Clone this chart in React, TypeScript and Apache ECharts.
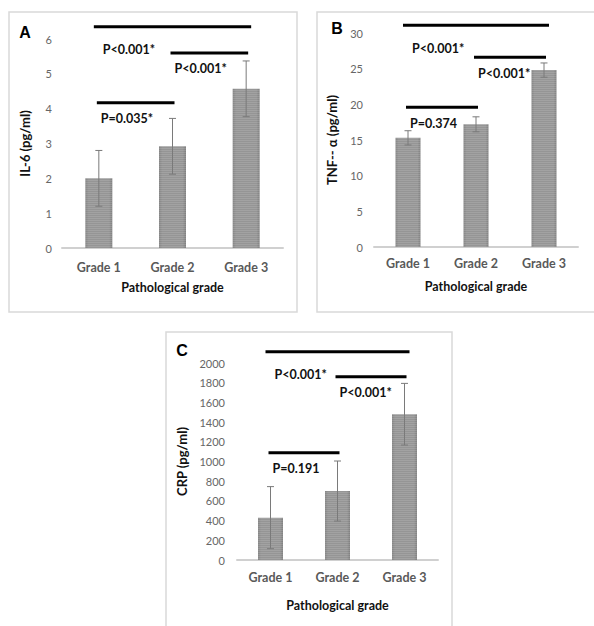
import React, { useEffect, useRef } from "react";
import * as echarts from "echarts";

const categories = ["Grade 1", "Grade 2", "Grade 3"];

const il6Mean = [2.0, 2.92, 4.57];
const il6Sd = [0.8, 0.8, 0.8];
const tnfMean = [15.3, 17.2, 24.8];
const tnfSd = [1.0, 1.05, 1.0];
const crpMean = [430, 700, 1480];
const crpSd = [315, 305, 313];

const il6Comps = [
  { from: 0, to: 2, level: 6.35, label: "P<0.001*" },
  { from: 1, to: 2, level: 5.6, label: "P<0.001*" },
  { from: 0, to: 1, level: 4.17, label: "P=0.035*" },
];
const tnfComps = [
  { from: 0, to: 2, level: 31.1, label: "P<0.001*" },
  { from: 1, to: 2, level: 26.6, label: "P<0.001*" },
  { from: 0, to: 1, level: 19.6, label: "P=0.374" },
];
const crpComps = [
  { from: 0, to: 2, level: 2115, label: "P<0.001*" },
  { from: 1, to: 2, level: 1861, label: "P<0.001*" },
  { from: 0, to: 1, level: 1089, label: "P=0.191" },
];

const FONT = "Lato";

const barFill = {
  type: "linear",
  x: 0,
  y: 0,
  x2: 1,
  y2: 0,
  colorStops: [
    { offset: 0, color: "#858585" },
    { offset: 0.12, color: "#959595" },
    { offset: 0.88, color: "#959595" },
    { offset: 1, color: "#808080" },
  ],
};

function panelAxes(
  idx: number,
  max: number,
  interval: number,
  yName: string,
  yGap: number,
  labelMargin: number,
  catMargin: number,
  xGap: number
) {
  const xAxis = {
    type: "category",
    gridIndex: idx,
    data: categories,
    axisLine: { lineStyle: { color: "#d0d0d0", width: 2 } },
    axisTick: { show: false },
    axisLabel: {
      color: "#595959",
      fontFamily: FONT,
      fontWeight: "bold",
      fontSize: 12.5,
      margin: catMargin,
    },
    name: "Pathological grade",
    nameLocation: "middle",
    nameGap: xGap,
    nameTextStyle: { color: "#111", fontFamily: FONT, fontWeight: "bold", fontSize: 12.5 },
  };
  const yAxis = {
    type: "value",
    gridIndex: idx,
    min: 0,
    max,
    interval,
    splitLine: { show: false },
    axisLine: { show: false },
    axisTick: { show: false },
    axisLabel: {
      color: "#666",
      fontFamily: FONT,
      fontSize: 11,
      margin: labelMargin,
      formatter: (v: number) => String(v),
    },
    name: yName,
    nameLocation: "middle",
    nameGap: yGap,
    nameRotate: 90,
    nameTextStyle: { color: "#111", fontFamily: FONT, fontWeight: "bold", fontSize: 13 },
  };
  return { xAxis, yAxis };
}

function panelSeries(idx: number, mean: number[], sd: number[], comps: any[], barWidth: number) {
  const bar = {
    type: "bar",
    xAxisIndex: idx,
    yAxisIndex: idx,
    data: mean,
    barWidth,
    itemStyle: {
      color: barFill,
      decal: {
        symbol: "rect",
        symbolSize: 1,
        dashArrayX: [1, 0],
        dashArrayY: [1, 1],
        rotation: 0,
        color: "rgba(255,255,255,0.12)",
      },
    },
    z: 2,
  };
  const err = {
    type: "custom",
    xAxisIndex: idx,
    yAxisIndex: idx,
    data: mean.map((m, i) => [i, m, sd[i]]),
    encode: { x: 0, y: 1 },
    clip: false,
    z: 5,
    renderItem: (params: any, api: any) => {
      const i = api.value(0);
      const m = api.value(1);
      const s = api.value(2);
      const hi = api.coord([i, m + s]);
      const lo = api.coord([i, m - s]);
      const st = { stroke: "#7a7a7a", lineWidth: 1 };
      return {
        type: "group",
        children: [
          { type: "line", shape: { x1: hi[0], y1: hi[1], x2: lo[0], y2: lo[1] }, style: st },
          { type: "line", shape: { x1: hi[0] - 3.5, y1: hi[1], x2: hi[0] + 3.5, y2: hi[1] }, style: st },
          { type: "line", shape: { x1: lo[0] - 3.5, y1: lo[1], x2: lo[0] + 3.5, y2: lo[1] }, style: st },
        ],
      };
    },
  };
  const sig = {
    type: "custom",
    xAxisIndex: idx,
    yAxisIndex: idx,
    data: comps.map((c) => [c.from, c.to, c.level]),
    encode: { x: [0, 1], y: 2 },
    clip: false,
    z: 6,
    renderItem: (params: any, api: any) => {
      const c = comps[params.dataIndex];
      const p1 = api.coord([c.from, c.level]);
      const p2 = api.coord([c.to, c.level]);
      const wide = c.to - c.from > 1;
      const pad = wide ? 5 : 2;
      return {
        type: "group",
        children: [
          {
            type: "line",
            shape: { x1: p1[0] - pad, y1: p1[1], x2: p2[0] + pad, y2: p2[1] },
            style: { stroke: "#000", lineWidth: 3 },
          },
          {
            type: "text",
            x: p1[0] + (wide ? 4 : 2),
            y: p1[1] + (wide ? 23 : 16),
            style: {
              text: c.label,
              fontFamily: FONT,
              fontWeight: "bold",
              fontSize: 12.5,
              fill: "#111",
              align: "left",
              verticalAlign: "middle",
            },
          },
        ],
      };
    },
  };
  return [bar, err, sig];
}

export default function App() {
  const ref = useRef<HTMLDivElement>(null);
  useEffect(() => {
    if (!ref.current) return;
    const chart = echarts.init(ref.current, null, { renderer: "svg" });
    const a = panelAxes(0, 6, 1, "IL-6 (pg/ml)", 31, 10, 13, 33);
    const b = panelAxes(1, 30, 5, "TNF-- α (pg/ml)", 36, 11, 10, 33);
    const c = panelAxes(2, 2000, 200, "CRP (pg/ml)", 49, 12, 11, 39);
    const border = { stroke: "#d9d9d9", lineWidth: 1.5, fill: "transparent" };
    const letter = (t: string, x: number, y: number) => ({
      type: "text",
      x,
      y,
      style: {
        text: t,
        fontFamily: "Liberation Sans",
        fontWeight: "bold",
        fontSize: 16,
        fill: "#000",
        align: "center",
        verticalAlign: "middle",
      },
    });
    chart.setOption({
      animation: false,
      backgroundColor: "#fff",
      grid: [
        { left: 62, top: 39, width: 221, height: 209 },
        { left: 374, top: 33, width: 204, height: 214 },
        { left: 237, top: 363, width: 201, height: 197 },
      ],
      xAxis: [a.xAxis, b.xAxis, c.xAxis],
      yAxis: [a.yAxis, b.yAxis, c.yAxis],
      series: [
        ...panelSeries(0, il6Mean, il6Sd, il6Comps, 27),
        ...panelSeries(1, tnfMean, tnfSd, tnfComps, 25),
        ...panelSeries(2, crpMean, crpSd, crpComps, 25),
      ],
      graphic: [
        { type: "rect", shape: { x: 9, y: 12, width: 288, height: 300 }, style: border, silent: true },
        { type: "rect", shape: { x: 317, y: 12, width: 290, height: 300 }, style: border, silent: true },
        { type: "rect", shape: { x: 166, y: 332, width: 286, height: 300 }, style: border, silent: true },
        letter("A", 25, 32),
        letter("B", 337, 28),
        letter("C", 182, 350),
      ],
    });
    return () => chart.dispose();
  }, []);
  return (
    <div
      ref={ref}
      style={{ position: "absolute", left: 0, top: 0, width: 594, height: 626 }}
    />
  );
}
